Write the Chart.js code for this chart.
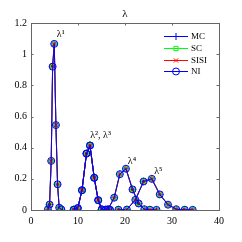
<!DOCTYPE html>
<html>
<head>
<meta charset="utf-8">
<script src="https://cdn.jsdelivr.net/npm/chart.js@4/dist/chart.umd.min.js"></script>
<style>
  body { margin: 0; background: #fff; }
  canvas { display: block; }
</style>
</head>
<body>
<canvas id="myChart" width="242" height="242"></canvas>
<script>
// eigenvalue curves (all four methods lie on top of each other)
const lam1X = [3.6, 3.95, 4.3, 4.6, 4.95, 5.3, 5.65, 6.0, 6.45];
const lam1Y = [0.004, 0.035, 0.315, 0.92, 1.066, 0.545, 0.165, 0.015, 0.004];
const lam2X = [9.1, 9.95, 10.85, 11.8, 12.55, 13.45, 14.3, 15.05, 15.9, 16.8];
const lam2Y = [0.002, 0.012, 0.127, 0.362, 0.414, 0.207, 0.063, 0.004, 0.002, 0.001];
const lam3X = [9.1, 9.95, 10.85, 11.8, 12.55, 13.45, 14.3, 15.05, 15.9, 16.8];
const lam3Y = [0.002, 0.012, 0.127, 0.362, 0.414, 0.207, 0.063, 0.004, 0.002, 0.001];
const lam4X = [16.4, 17.7, 18.9, 20.2, 21.6, 22.9, 24.1, 25.3, 26.7];
const lam4Y = [0.005, 0.079, 0.23, 0.265, 0.132, 0.042, 0.005, 0.002, 0.001];
const lam5X = [18.6, 20.4, 22.2, 23.95, 25.7, 27.4, 29.15, 30.9, 32.7, 34.4];
const lam5Y = [0.002, 0.003, 0.065, 0.183, 0.2, 0.1, 0.034, 0.005, 0.002, 0.001];

const curves = [[lam1X, lam1Y], [lam2X, lam2Y], [lam3X, lam3Y], [lam4X, lam4Y], [lam5X, lam5Y]];

const methods = ["MC", "SC", "SISI", "NI"];
const methodColors = ["#0000ff", "#00ff00", "#ff0000", "#0000ff"];
const methodMarkers = ["cross", "rect", "crossRot", "circle"];
const markerSizes = [3.5, 3, 3, 3.5];

const xTicks = [0, 10, 20, 30, 40];
const yTicks = [0, 0.2, 0.4, 0.6, 0.8, 1, 1.2];

// peak labels [text, x, y]
const peakLabels = [
    ["λ¹", 5.5, 1.13],
    ["λ², λ³", 12.6, 0.48],
    ["λ⁴", 20.6, 0.31],
    ["λ⁵", 26.2, 0.25]
];

const serif = "'Liberation Serif', serif";

let datasets = [];
methods.forEach((m, i) => {
    curves.forEach((c, k) => {
        datasets.push({
            label: m,
            order: methods.length - i, // last method ends up on top, like the original
            data: c[0].map((x, j) => ({ x: x, y: c[1][j] })),
            showLine: true,
            borderColor: methodColors[i],
            backgroundColor: 'rgba(0,0,0,0)',
            borderWidth: 0.9,
            pointStyle: methodMarkers[i],
            pointRadius: markerSizes[i],
            pointBorderWidth: 1,
            pointBorderColor: methodColors[i],
            pointBackgroundColor: 'rgba(0,0,0,0)'
        });
    });
});

// axes box, inward ticks, title, peak labels and legend
const decorations = {
    id: 'decorations',
    afterDraw(chart) {
        const ctx = chart.ctx;
        const a = chart.chartArea;
        const xs = chart.scales.x, ys = chart.scales.y;
        ctx.save();
        ctx.strokeStyle = '#666';
        ctx.lineWidth = 1;
        ctx.strokeRect(Math.round(a.left) + 0.5, Math.round(a.top) + 0.5,
            Math.round(a.right - a.left), Math.round(a.bottom - a.top));
        ctx.beginPath();
        xTicks.forEach(v => {
            let px = Math.round(xs.getPixelForValue(v)) + 0.5;
            ctx.moveTo(px, a.bottom); ctx.lineTo(px, a.bottom - 2.5);
            ctx.moveTo(px, a.top); ctx.lineTo(px, a.top + 2.5);
        });
        yTicks.forEach(v => {
            let py = Math.round(ys.getPixelForValue(v)) + 0.5;
            ctx.moveTo(a.left, py); ctx.lineTo(a.left + 2.5, py);
            ctx.moveTo(a.right, py); ctx.lineTo(a.right - 2.5, py);
        });
        ctx.stroke();

        ctx.fillStyle = '#000';
        ctx.font = '11px ' + serif;
        ctx.textAlign = 'center';
        ctx.textBaseline = 'middle';
        ctx.fillText('λ', (a.left + a.right) / 2, 14);

        ctx.font = '10px ' + serif;
        ctx.textAlign = 'left';
        peakLabels.forEach(p => {
            ctx.fillText(p[0], xs.getPixelForValue(p[1]), ys.getPixelForValue(p[2]));
        });

        // legend
        const lx0 = 164, lx1 = 188, rowY = [36, 48, 60, 71];
        methods.forEach((m, i) => {
            ctx.strokeStyle = methodColors[i];
            ctx.fillStyle = 'rgba(0,0,0,0)';
            ctx.lineWidth = 1;
            ctx.beginPath();
            ctx.moveTo(lx0, rowY[i] + 0.5);
            ctx.lineTo(lx1, rowY[i] + 0.5);
            ctx.stroke();
            Chart.helpers.drawPoint(ctx, {
                pointStyle: methodMarkers[i], radius: markerSizes[i], borderWidth: 1, rotation: 0
            }, (lx0 + lx1) / 2, rowY[i] + 0.5);
            ctx.fillStyle = '#000';
            ctx.font = '9px ' + serif;
            ctx.textBaseline = 'middle';
            ctx.fillText(m, 191, rowY[i] + 0.5);
        });
        ctx.restore();
    }
};

let ctx = document.getElementById('myChart').getContext('2d');
let myChart = new Chart(ctx, {
    type: 'scatter',
    data: { datasets: datasets },
    options: {
        responsive: false,
        animation: false,
        devicePixelRatio: 1,
        layout: { padding: { left: 0, top: 23, right: 23, bottom: 0 } },
        plugins: { legend: { display: false }, tooltip: { enabled: false }, title: { display: false } },
        scales: {
            x: {
                type: 'linear', min: 0, max: 40,
                afterBuildTicks: s => { s.ticks = xTicks.map(v => ({ value: v })); },
                afterFit: s => { s.height = 32; },
                grid: { display: false, drawTicks: false },
                border: { display: false },
                ticks: { color: '#000', padding: 5, maxRotation: 0, font: { family: serif, size: 10 } }
            },
            y: {
                type: 'linear', min: 0, max: 1.2,
                afterBuildTicks: s => { s.ticks = yTicks.map(v => ({ value: v })); },
                afterFit: s => { s.width = 31; },
                grid: { display: false, drawTicks: false },
                border: { display: false },
                ticks: { color: '#000', padding: 4, callback: v => String(+v.toFixed(1)), font: { family: serif, size: 10 } }
            }
        }
    },
    plugins: [decorations]
});
</script>
</body>
</html>
